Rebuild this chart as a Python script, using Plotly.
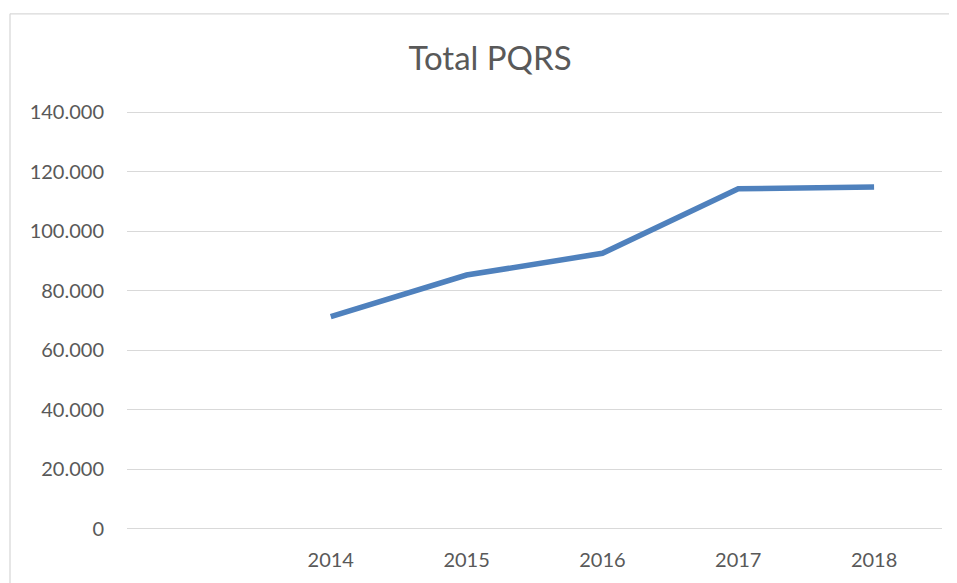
import plotly.graph_objects as go

years = ["2014", "2015", "2016", "2017", "2018"]
totals = [71300, 85300, 92600, 114300, 114900]
y_ticks = [0, 20000, 40000, 60000, 80000, 100000, 120000, 140000]

OFF = 8  # page body margin
W, H = 957 - OFF, 583 - OFF
# target pixel positions in the screenshot, converted to figure pixels
L, R = 127 - OFF, 942 - OFF
Y140, Y0 = 112.3 - OFF, 531.0 - OFF
PAD = 1500  # data padding so the 0 and 140.000 gridlines are drawn
k = (Y0 - Y140) / 140000
T = Y140 - PAD * k
B = Y0 + PAD * k

idx = list(range(len(years)))

fig = go.Figure()
fig.add_trace(go.Scatter(
    x=idx, y=totals, mode="lines",
    line=dict(color="#4F81BD", width=5.5),
    hoverinfo="skip", showlegend=False,
))

def px_to_paper_x(p):
    return (p - L) / (R - L)

def px_to_paper_y(p):
    return (B - p) / (B - T)

frame = dict(color="#D9D9D9", width=1.3)
# chart-area frame (top and left edges; right/bottom lie outside the view)
fig.add_shape(type="line", xref="paper", yref="paper",
              x0=px_to_paper_x(10 - OFF), x1=px_to_paper_x(W + 50),
              y0=px_to_paper_y(13 - OFF), y1=px_to_paper_y(13 - OFF),
              line=frame, layer="below")
fig.add_shape(type="line", xref="paper", yref="paper",
              x0=px_to_paper_x(10 - OFF), x1=px_to_paper_x(10 - OFF),
              y0=px_to_paper_y(13 - OFF), y1=px_to_paper_y(H + 50),
              line=frame, layer="below")

fig.update_layout(
    width=W, height=H,
    margin=dict(l=L, r=W - R, t=T, b=H - B, pad=0),
    paper_bgcolor="white", plot_bgcolor="white",
    separators=",.",
    font=dict(family="Lato", color="#595959", size=20),
    title=dict(text="Total PQRS", x=(490 - OFF) / W, xanchor="center",
               y=1 - (58 - OFF) / H, yanchor="middle",
               font=dict(family="Lato", size=33, color="#595959")),
    xaxis=dict(range=[-1.5, len(years) - 0.5], tickvals=idx, ticktext=years,
               showgrid=False, zeroline=False, showline=False, ticks="",
               ticklabelstandoff=13, tickfont=dict(size=20, color="#595959")),
    yaxis=dict(range=[-PAD, 140000 + PAD], tickvals=y_ticks, tickformat=",d",
               showgrid=True, gridcolor="#D9D9D9", gridwidth=1.3,
               zeroline=False, showline=False, ticks="",
               ticklabelstandoff=22, tickfont=dict(size=20, color="#595959")),
)

fig.write_html("out.html")
